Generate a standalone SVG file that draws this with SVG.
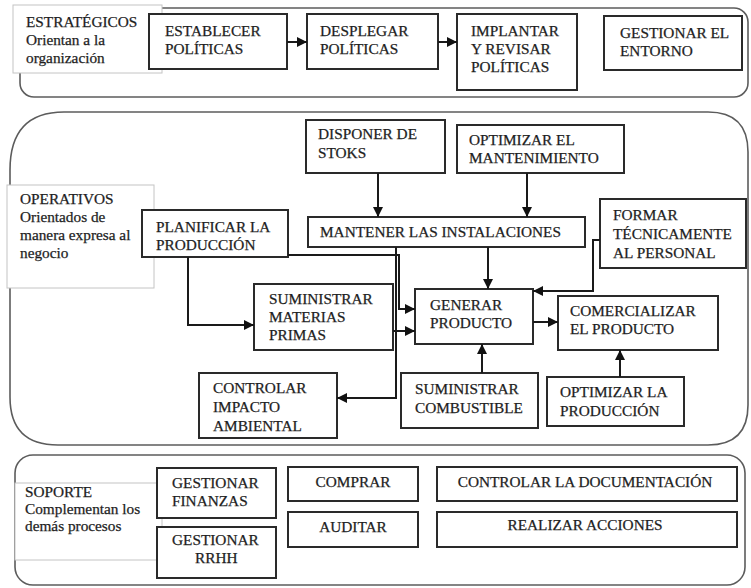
<svg xmlns="http://www.w3.org/2000/svg" width="751" height="588" viewBox="0 0 751 588">
  <defs>
    <marker id="arrow" viewBox="0 0 10 10" refX="10" refY="5" markerWidth="10" markerHeight="10" markerUnits="userSpaceOnUse" orient="auto">
      <path d="M0,0 L10,5 L0,10 z" fill="#111"/>
    </marker>
  </defs>
  <style>
    .band { fill: none; stroke: #5c5c5c; stroke-width: 1.6; }
    .label { fill: #fff; stroke: #c4c4c4; stroke-width: 1; }
    .box { fill: #fff; stroke: #2a2a2a; stroke-width: 2; }
    text { font-family: "Liberation Serif", "Times New Roman", Times, serif; font-size: 15.3px; fill: #1e1e1e; stroke: #1e1e1e; stroke-width: 0.25; }
    .mid { text-anchor: middle; }
    .conn { fill: none; stroke: #1a1a1a; stroke-width: 2; }
    .arr { marker-end: url(#arrow); }
  </style>

  <rect width="751" height="588" fill="#fff"/>

  <!-- process bands -->
  <g id="bands">
    <rect class="band" x="20" y="8" width="728" height="89" rx="14"/>
    <path class="band" d="M64,112 H708 Q748,112 748,152 V405 Q748,445 708,445 H58 Q10,445 10,397 V170 Q10,112 64,112 Z"/>
    <rect class="band" x="15" y="455" width="730" height="130" rx="18"/>
  </g>

  <!-- band labels -->
  <g id="lbl-estrategicos">
    <rect class="label" x="13" y="5" width="149" height="68"/>
    <text x="26" y="27">ESTRATÉGICOS</text>
    <text x="26" y="45">Orientan a la</text>
    <text x="26" y="63">organización</text>
  </g>
  <g id="lbl-operativos">
    <rect class="label" x="7" y="185" width="147" height="103"/>
    <text x="20" y="204">OPERATIVOS</text>
    <text x="20" y="222">Orientados de</text>
    <text x="20" y="240">manera expresa al</text>
    <text x="20" y="258">negocio</text>
  </g>
  <g id="lbl-soporte">
    <rect class="label" x="15" y="483" width="147" height="77"/>
    <text x="25" y="497">SOPORTE</text>
    <text x="25" y="514">Complementan los</text>
    <text x="25" y="531">demás procesos</text>
  </g>

  <!-- strategic processes -->
  <g id="n-establecer">
    <rect class="box" x="149" y="14" width="138" height="55"/>
    <text x="165" y="36">ESTABLECER</text>
    <text x="165" y="54">POLÍTICAS</text>
  </g>
  <g id="n-desplegar">
    <rect class="box" x="307" y="14" width="131" height="55"/>
    <text x="320" y="36">DESPLEGAR</text>
    <text x="320" y="54">POLÍTICAS</text>
  </g>
  <g id="n-implantar">
    <rect class="box" x="457" y="14" width="120" height="76"/>
    <text x="471" y="36">IMPLANTAR</text>
    <text x="471" y="54">Y REVISAR</text>
    <text x="471" y="72">POLÍTICAS</text>
  </g>
  <g id="n-entorno">
    <rect class="box" x="604" y="16" width="138" height="54"/>
    <text x="620" y="38">GESTIONAR EL</text>
    <text x="620" y="56">ENTORNO</text>
  </g>

  <!-- operative processes -->
  <g id="n-disponer">
    <rect class="box" x="306" y="120" width="139" height="53"/>
    <text x="318" y="139">DISPONER DE</text>
    <text x="318" y="158">STOKS</text>
  </g>
  <g id="n-optimizar-mant">
    <rect class="box" x="457" y="125" width="167" height="48"/>
    <text x="469" y="145">OPTIMIZAR EL</text>
    <text x="469" y="163">MANTENIMIENTO</text>
  </g>
  <g id="n-mantener">
    <rect class="box" x="308" y="217" width="277" height="30"/>
    <text x="320" y="237">MANTENER LAS INSTALACIONES</text>
  </g>
  <g id="n-planificar">
    <rect class="box" x="142" y="210" width="146" height="47"/>
    <text x="156" y="232">PLANIFICAR LA</text>
    <text x="156" y="250">PRODUCCIÓN</text>
  </g>
  <g id="n-formar">
    <rect class="box" x="600" y="199" width="146" height="69"/>
    <text x="613" y="220">FORMAR</text>
    <text x="613" y="239">TÉCNICAMENTE</text>
    <text x="613" y="258">AL PERSONAL</text>
  </g>
  <g id="n-materias">
    <rect class="box" x="254" y="284" width="139" height="66"/>
    <text x="269" y="304">SUMINISTRAR</text>
    <text x="269" y="322">MATERIAS</text>
    <text x="269" y="340">PRIMAS</text>
  </g>
  <g id="n-generar">
    <rect class="box" x="415" y="289" width="118" height="55"/>
    <text x="430" y="310">GENERAR</text>
    <text x="430" y="328">PRODUCTO</text>
  </g>
  <g id="n-comercializar">
    <rect class="box" x="558" y="296" width="160" height="54"/>
    <text x="570" y="316">COMERCIALIZAR</text>
    <text x="570" y="334">EL PRODUCTO</text>
  </g>
  <g id="n-impacto">
    <rect class="box" x="199" y="373" width="138" height="65"/>
    <text x="213" y="393">CONTROLAR</text>
    <text x="213" y="412">IMPACTO</text>
    <text x="213" y="431">AMBIENTAL</text>
  </g>
  <g id="n-combustible">
    <rect class="box" x="401" y="373" width="137" height="55"/>
    <text x="415" y="394">SUMINISTRAR</text>
    <text x="415" y="413">COMBUSTIBLE</text>
  </g>
  <g id="n-optimizar-prod">
    <rect class="box" x="547" y="377" width="137" height="49"/>
    <text x="560" y="397">OPTIMIZAR LA</text>
    <text x="560" y="416">PRODUCCIÓN</text>
  </g>

  <!-- support processes -->
  <g id="n-finanzas">
    <rect class="box" x="157" y="468" width="119" height="50"/>
    <text x="172" y="488">GESTIONAR</text>
    <text x="172" y="506">FINANZAS</text>
  </g>
  <g id="n-rrhh">
    <rect class="box" x="157" y="527" width="119" height="51"/>
    <text x="172" y="545">GESTIONAR</text>
    <text x="195" y="563">RRHH</text>
  </g>
  <g id="n-comprar">
    <rect class="box" x="288" y="467" width="130" height="34"/>
    <text class="mid" x="353" y="487">COMPRAR</text>
  </g>
  <g id="n-auditar">
    <rect class="box" x="288" y="512" width="130" height="35"/>
    <text class="mid" x="353" y="532">AUDITAR</text>
  </g>
  <g id="n-documentacion">
    <rect class="box" x="437" y="467" width="300" height="34"/>
    <text class="mid" x="585" y="487">CONTROLAR LA DOCUMENTACIÓN</text>
  </g>
  <g id="n-acciones">
    <rect class="box" x="437" y="512" width="300" height="35"/>
    <text class="mid" x="585" y="530">REALIZAR ACCIONES</text>
  </g>

  <!-- connectors -->
  <g id="connectors">
    <path class="conn arr" d="M287,42 H307"/>
    <path class="conn arr" d="M438,42 H457"/>
    <path class="conn arr" d="M378,173 V217"/>
    <path class="conn arr" d="M527,173 V217"/>
    <path class="conn arr" d="M488,247 V289"/>
    <path class="conn arr" d="M600,240 H593 V291 H533"/>
    <path class="conn arr" d="M188,257 V325 H254"/>
    <path class="conn arr" d="M288,255 H399 V309 H415"/>
    <path class="conn arr" d="M396,247 V398 H337"/>
    <path class="conn arr" d="M393,331 H415"/>
    <path class="conn arr" d="M533,322 H558"/>
    <path class="conn arr" d="M482,373 V344"/>
    <path class="conn arr" d="M620,377 V350"/>
  </g>
</svg>
